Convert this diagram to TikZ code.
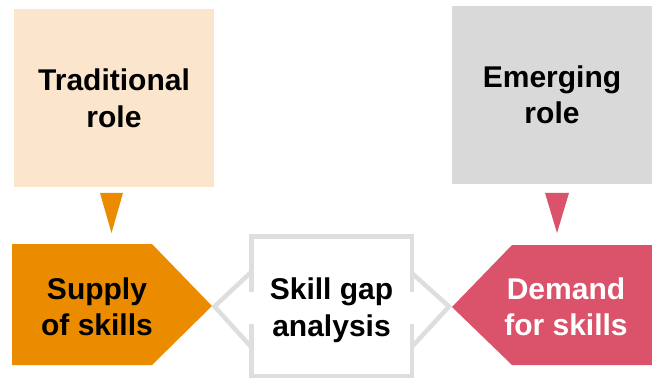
\documentclass[tikz,border=0pt]{standalone}
\usepackage{fontspec}
\setmainfont{Liberation Sans}
\definecolor{peach}{HTML}{FBE5CD}
\definecolor{lgrey}{HTML}{D9D9D9}
\definecolor{porange}{HTML}{EB8C00}
\definecolor{prose}{HTML}{DB536A}
\definecolor{lineg}{HTML}{DEDEDE}
\begin{document}
\begin{tikzpicture}[x=1pt,y=-1pt,
  lbl/.style={align=center,font=\fontsize{30}{36.5}\selectfont\bfseries,inner sep=0pt},
  rolebox/.style={lbl,minimum width=200pt,minimum height=178pt},
  gapline/.style={draw=lineg,line width=4.5pt}]
\useasboundingbox (0,0) rectangle (652,379);
% top boxes
\node[rolebox,fill=peach] (trad) at (114,98.5) {Traditional\\role};
\node[rolebox,fill=lgrey] (emer) at (552,95) {Emerging\\role};
% triangles
\fill[porange] (100,193) -- (123,193) -- (111.5,233) -- cycle;
\fill[prose] (545,193) -- (569,193) -- (557,233) -- cycle;
% pentagons
\fill[porange] (12,244) -- (152,244) -- (212,306) -- (152,365) -- (12,365) -- cycle;
\fill[prose] (652,245) -- (512,245) -- (452,307) -- (512,365) -- (652,365) -- cycle;
\node[lbl] (supply) at (97,307) {Supply\\of skills};
\node[lbl,text=white] (demand) at (566,307) {Demand\\for skills};
% skill gap box
\draw[gapline] (251.25,292) -- (251.25,236.25) -- (411.75,236.25) -- (411.75,292);
\draw[gapline] (251.25,324) -- (251.25,375.75) -- (411.75,375.75) -- (411.75,324);
\draw[gapline] (251.25,272) -- (214.5,306.5) -- (251.25,347);
\draw[gapline] (411.75,273) -- (449,306.5) -- (411.75,347);
\node[lbl] (gap) at (331.5,310) {Skill gap\\analysis};
\end{tikzpicture}
\end{document}
